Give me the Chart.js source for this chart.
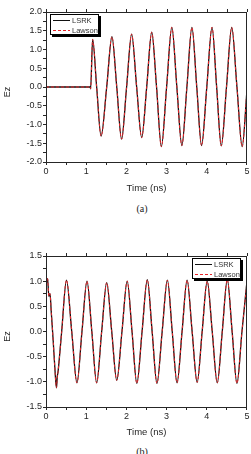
<!DOCTYPE html>
<html lang="en">
<head>
<meta charset="UTF-8">
<title>Ez vs time</title>
<script src="https://cdn.jsdelivr.net/npm/chart.js"></script>
<style>
  body { margin: 0; background: #fff; width: 251px; height: 454px; position: relative; overflow: hidden; }
  .wrap { position: absolute; left: 0; width: 251px; }
  .cap {
    position: absolute; left: 0; width: 251px; padding-left: 33px; box-sizing: border-box;
    text-align: center; font-family: "Liberation Serif", "Times New Roman", serif;
    font-size: 10px; line-height: 12px; color: #222;
  }
</style>
</head>
<body>
  <div class="wrap" style="top:0;height:200px"><canvas id="chartA" width="251" height="200"></canvas></div>
  <div class="cap" style="top:203px">(a)</div>
  <div class="wrap" style="top:220px;height:224px"><canvas id="chartB" width="251" height="224"></canvas></div>
  <div class="cap" style="top:446px">(b)</div>

<script>
// (a) time in ns, Ez
const timeA = [0, 1.10, 1.11, 1.16, 1.26, 1.37, 1.51, 1.64, 1.76, 1.88, 2.005, 2.13, 2.255, 2.38, 2.505,
  2.63, 2.75, 2.87, 3.0, 3.13, 3.255, 3.38, 3.505, 3.63, 3.75, 3.87, 4.0, 4.13, 4.245, 4.36, 4.49,
  4.62, 4.75, 4.88, 5.0];
const lsrkA = [0, 0, -0.05, 1.27, 0, -1.31, 0, 1.34, 0, -1.39, 0, 1.41, 0, -1.35, 0,
  1.46, 0, -1.59, 0, 1.59, 0, -1.56, 0, 1.59, 0, -1.56, 0, 1.59, 0, -1.57, 0,
  1.59, 0, -1.59, -0.08];
const lawsonA = lsrkA.slice();

// (b)
const timeB = [0, 0.02, 0.04, 0.07, 0.10, 0.13, 0.18, 0.23, 0.26, 0.28, 0.30, 0.33, 0.39,
  0.51, 0.64, 0.77, 0.895, 1.02, 1.14, 1.26, 1.385, 1.51, 1.635, 1.76, 1.89, 2.02, 2.14,
  2.26, 2.39, 2.52, 2.64, 2.76, 2.89, 3.02, 3.14, 3.26, 3.385, 3.51, 3.635, 3.76, 3.885,
  4.01, 4.135, 4.26, 4.385, 4.51, 4.63, 4.75, 4.875, 5.0];
const lsrkB = [1.12, 0.98, 1.05, 0.7, 0.75, 0.4, -0.2, -0.85, -1.12, -0.9, -0.8, -0.55, 0,
  1.02, 0, -1.02, 0, 1.0, 0, -1.02, 0, 0.97, 0, -0.97, 0, 1.0, 0,
  -1.03, 0, 1.03, 0, -1.03, 0, 1.02, 0, -1.02, 0, 1.02, 0, -1.01, 0,
  1.0, 0, -1.02, 0, 1.03, 0, -1.03, 0, 1.0];
const lawsonB = lsrkB.slice();

const seriesNames = ['LSRK', 'Lawson'];
const seriesColors = ['#111', '#e8262a'];
const xTicks = [0, 1, 2, 3, 4, 5];

const ink = '#262626';
const sans = '"Liberation Sans", Arial, sans-serif';

const zip = (t, v) => t.map((x, i) => ({ x: x, y: v[i] }));

// frame round the plot area plus the small ticks on the top edge
const framePlugin = {
  id: 'frame',
  afterDraw(chart) {
    const { ctx, chartArea: a } = chart;
    const xs = chart.scales.x;
    ctx.save();
    ctx.strokeStyle = ink;
    ctx.lineWidth = 1;
    ctx.strokeRect(Math.round(a.left) + 0.5, Math.round(a.top) + 0.5,
      Math.round(a.right - a.left) - 1, Math.round(a.bottom - a.top));
    ctx.beginPath();
    xs.ticks.forEach(t => {
      const px = Math.round(xs.getPixelForValue(t.value)) + 0.5;
      ctx.moveTo(px, Math.round(a.top));
      ctx.lineTo(px, Math.round(a.top) - 3);
    });
    ctx.stroke();
    ctx.restore();
  }
};

// boxed legend with a drop shadow, inside the plot area
const boxLegend = {
  id: 'boxLegend',
  afterDraw(chart, args, opts) {
    const { ctx, chartArea: a } = chart;
    const w = 48, h = 20;
    const x = Math.round(opts.side === 'left' ? a.left + 4 : a.right - 7 - w);
    const y = Math.round(a.top + 2);
    ctx.save();
    ctx.fillStyle = '#000';
    ctx.fillRect(x + 2, y + 2, w + 1, h + 1);
    ctx.fillStyle = '#fff';
    ctx.fillRect(x, y, w, h);
    ctx.strokeStyle = '#000';
    ctx.lineWidth = 1;
    ctx.strokeRect(x + 0.5, y + 0.5, w, h);
    ctx.font = '7.5px ' + sans;
    ctx.textBaseline = 'middle';
    seriesNames.forEach((name, i) => {
      const ly = y + 6 + i * 10 + 0.5;
      ctx.beginPath();
      ctx.strokeStyle = seriesColors[i];
      ctx.setLineDash(i === 1 ? [3, 2] : []);
      ctx.moveTo(x + 3, ly);
      ctx.lineTo(x + 20, ly);
      ctx.stroke();
      ctx.setLineDash([]);
      ctx.fillStyle = '#333';
      ctx.fillText(name, x + 22, ly);
    });
    ctx.restore();
  }
};

function makeChart(id, time, lsrk, lawson, yMin, yMax, padTop, axisH, side) {
  return new Chart(document.getElementById(id), {
    type: 'line',
    data: {
      datasets: [
        {
          label: seriesNames[0], data: zip(time, lsrk), order: 1,
          borderColor: seriesColors[0], borderWidth: 1.3, pointRadius: 0,
          cubicInterpolationMode: 'monotone', fill: false
        },
        {
          label: seriesNames[1], data: zip(time, lawson), order: 0,
          borderColor: seriesColors[1], borderWidth: 1, borderDash: [3, 2], pointRadius: 0,
          cubicInterpolationMode: 'monotone', fill: false
        }
      ]
    },
    options: {
      responsive: false,
      animation: false,
      layout: { padding: { top: padTop, right: 2, left: 0, bottom: 0 } },
      plugins: {
        legend: { display: false },
        tooltip: { enabled: false },
        boxLegend: { side: side }
      },
      scales: {
        x: {
          type: 'linear', min: 0, max: 5,
          afterFit: s => { s.height = axisH; },
          ticks: {
            stepSize: 0.5, autoSkip: false, maxRotation: 0, padding: 1.5, color: ink,
            font: { family: sans, size: 9 },
            callback: v => xTicks.includes(v) ? String(v) : ''
          },
          grid: { drawOnChartArea: false, tickLength: 3, tickColor: ink },
          border: { color: ink, width: 1 },
          title: {
            display: true, text: 'Time (ns)', color: ink,
            font: { family: sans, size: 9.5 },
            padding: { top: 0, bottom: 6 }
          }
        },
        y: {
          min: yMin, max: yMax,
          afterFit: s => { s.width = 46; },
          ticks: {
            stepSize: 0.25, autoSkip: false, padding: 1, color: ink,
            font: { family: sans, size: 9 },
            callback: v => Math.abs(v * 2 - Math.round(v * 2)) < 1e-6 ? v.toFixed(1) : ''
          },
          grid: { drawOnChartArea: false, tickLength: 3, tickColor: ink },
          border: { color: ink, width: 1 },
          title: {
            display: true, text: 'Ez\u00a0\u00a0\u00a0\u00a0', color: ink,
            font: { family: sans, size: 9 },
            padding: { top: 2, bottom: 0 }
          }
        }
      }
    },
    plugins: [framePlugin, boxLegend]
  });
}

makeChart('chartA', timeA, lsrkA, lawsonA, -2, 2, 12, 38, 'left');
makeChart('chartB', timeB, lsrkB, lawsonB, -1.5, 1.5, 36, 37, 'right');
</script>
</body>
</html>
